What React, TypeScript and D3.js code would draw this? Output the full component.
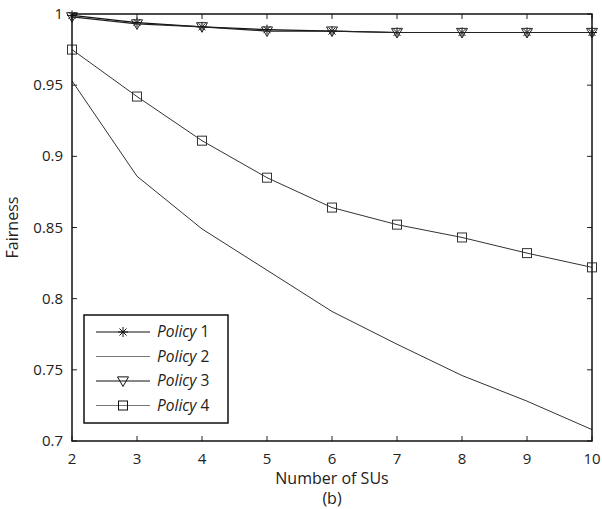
import React from "react";
import * as d3 from "d3";

const xs = [2, 3, 4, 5, 6, 7, 8, 9, 10];
const policy1 = [0.999, 0.994, 0.991, 0.989, 0.988, 0.987, 0.987, 0.987, 0.987];
const policy2 = [0.953, 0.886, 0.849, 0.820, 0.791, 0.768, 0.746, 0.728, 0.708];
const policy3 = [0.998, 0.993, 0.991, 0.988, 0.988, 0.987, 0.987, 0.987, 0.987];
const policy4 = [0.975, 0.942, 0.911, 0.885, 0.864, 0.852, 0.843, 0.832, 0.822];
const xTicks = [2, 3, 4, 5, 6, 7, 8, 9, 10];
const yTicks = [0.7, 0.75, 0.8, 0.85, 0.9, 0.95, 1];
const yTickLabels = ["0.7", "0.75", "0.8", "0.85", "0.9", "0.95", "1"];
const legendNames = ["1", "2", "3", "4"];

const W = 602, H = 509;
const L = 72, R = 592, T = 14, B = 441;
const FONT = "'Open Sans', 'Noto Sans', sans-serif";

function Marker({ kind, x, y, color }: { kind: string; x: number; y: number; color: string }) {
  if (kind === "star") {
    const r = 5;
    const d = r * 0.7;
    return (
      <g stroke={color} strokeWidth={1}>
        <line x1={x - r} y1={y} x2={x + r} y2={y} />
        <line x1={x} y1={y - r} x2={x} y2={y + r} />
        <line x1={x - d} y1={y - d} x2={x + d} y2={y + d} />
        <line x1={x - d} y1={y + d} x2={x + d} y2={y - d} />
      </g>
    );
  }
  if (kind === "tri") {
    const s = 5.5;
    return (
      <path
        d={`M${x - s},${y - s * 0.75} L${x + s},${y - s * 0.75} L${x},${y + s} Z`}
        fill="none"
        stroke={color}
        strokeWidth={1}
      />
    );
  }
  if (kind === "sq") {
    const s = 4.5;
    return <rect x={x - s} y={y - s} width={2 * s} height={2 * s} fill="none" stroke={color} strokeWidth={1} />;
  }
  return null;
}

export default function App() {
  const x = d3.scaleLinear().domain([2, 10]).range([L, R]);
  const y = d3.scaleLinear().domain([0.7, 1]).range([B, T]);
  const line = d3
    .line<number>()
    .x((_, i) => x(xs[i]))
    .y((d) => y(d));

  const series = [
    { data: policy1, marker: "star", color: "#111", lw: 1.2 },
    { data: policy2, marker: "none", color: "#333", lw: 1 },
    { data: policy3, marker: "tri", color: "#222", lw: 1.2 },
    { data: policy4, marker: "sq", color: "#333", lw: 1 },
  ];
  const legendColors = ["#111", "#777", "#111", "#777"];

  const lx = 84, ly = 315, lw = 144, lh = 108;
  const rowY = (i: number) => 332 + i * 24.5;

  return (
    <svg width={W} height={H} style={{ position: "absolute", left: 0, top: 0, background: "#fff" }}>
      <rect x={0} y={0} width={W} height={H} fill="#fff" />
      {/* ticks */}
      <g stroke="#222" strokeWidth={1}>
        {xTicks.map((t) => (
          <g key={"xt" + t}>
            <line x1={x(t)} x2={x(t)} y1={B} y2={B - 5} />
            <line x1={x(t)} x2={x(t)} y1={T} y2={T + 5} />
          </g>
        ))}
        {yTicks.map((t) => (
          <g key={"yt" + t}>
            <line x1={L} x2={L + 5} y1={y(t)} y2={y(t)} />
            <line x1={R} x2={R - 5} y1={y(t)} y2={y(t)} />
          </g>
        ))}
      </g>
      {/* series */}
      {series.map((s, si) => (
        <g key={"s" + si}>
          <path d={line(s.data) || ""} fill="none" stroke={s.color} strokeWidth={s.lw} />
          {s.data.map((v, i) => (
            <Marker key={i} kind={s.marker} x={x(xs[i])} y={y(v)} color={s.color} />
          ))}
        </g>
      ))}
      {/* frame */}
      <rect x={L} y={T} width={R - L} height={B - T} fill="none" stroke="#111" strokeWidth={1.5} />
      {/* tick labels */}
      <g fontFamily={FONT} fontSize={15} fill="#222">
        {xTicks.map((t) => (
          <text key={"xl" + t} x={x(t)} y={464} textAnchor="middle">
            {t}
          </text>
        ))}
        {yTicks.map((t, i) => (
          <text key={"yl" + t} x={L - 9} y={y(t) + 5} textAnchor="end">
            {yTickLabels[i]}
          </text>
        ))}
      </g>
      <g fontFamily={FONT} fontSize={16} fill="#222">
        <text x={(L + R) / 2} y={484} textAnchor="middle">
          Number of SUs
        </text>
        <text x={(L + R) / 2} y={504} textAnchor="middle">
          (b)
        </text>
        <text transform={`translate(18,${(T + B) / 2}) rotate(-90)`} textAnchor="middle">
          Fairness
        </text>
      </g>
      {/* legend */}
      <rect x={lx} y={ly} width={lw} height={lh} fill="#fff" stroke="#111" strokeWidth={1.5} />
      {series.map((s, i) => (
        <g key={"lg" + i}>
          <line x1={96} x2={150} y1={rowY(i)} y2={rowY(i)} stroke={legendColors[i]} strokeWidth={1.2} />
          <Marker kind={s.marker} x={123} y={rowY(i)} color="#111" />
          <text x={157} y={rowY(i) + 5} fontFamily={FONT} fontSize={15.5} fill="#222">
            <tspan fontStyle="italic">Policy</tspan> {legendNames[i]}
          </text>
        </g>
      ))}
    </svg>
  );
}
